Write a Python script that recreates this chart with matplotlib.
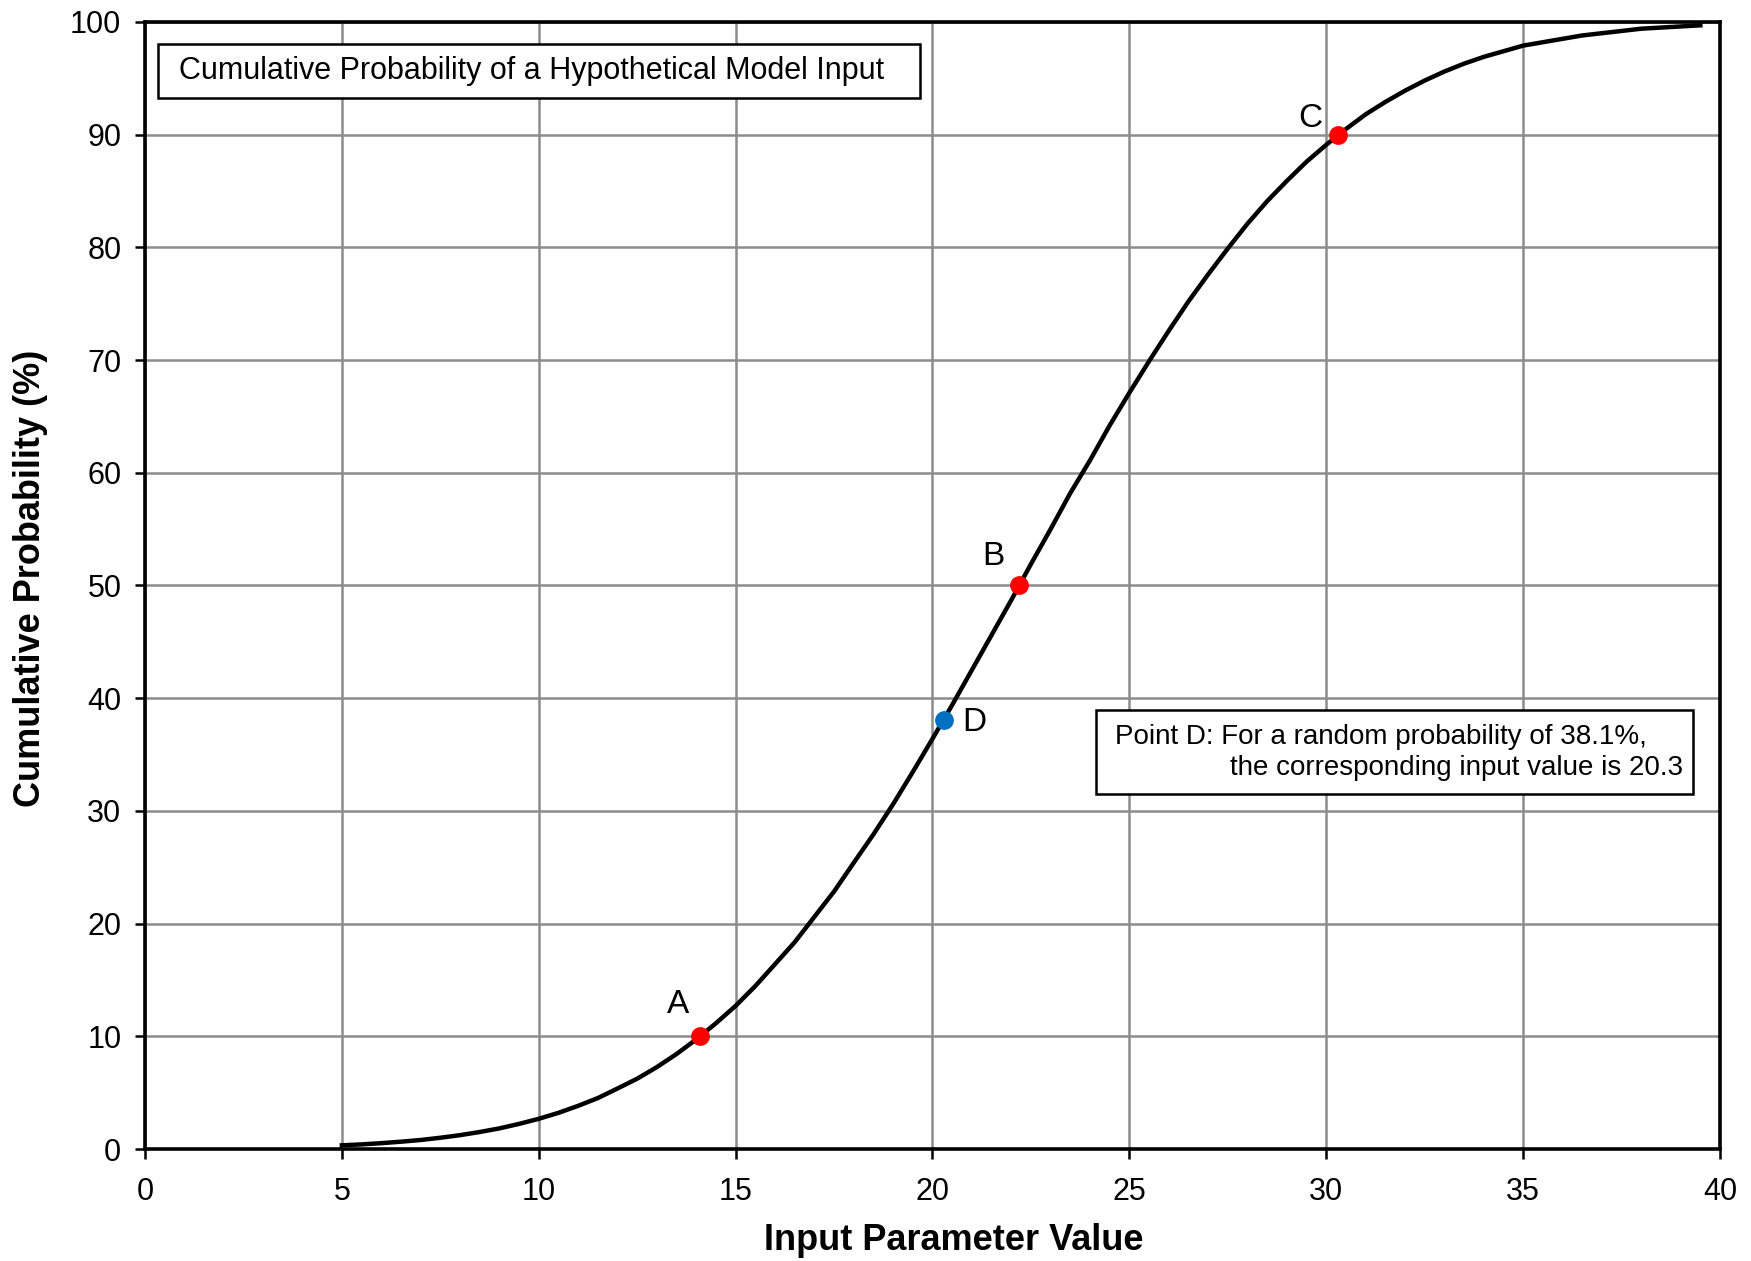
import matplotlib
matplotlib.use("Agg")
import matplotlib.pyplot as plt
from matplotlib.patches import Rectangle

plt.rcParams['font.family'] = ['Liberation Sans', 'DejaVu Sans']

# cumulative distribution curve, read at half-unit steps of the input
input_vals = [5, 5.5, 6, 6.5, 7, 7.5, 8, 8.5, 9, 9.5, 10, 10.5, 11, 11.5, 12, 12.5,
              13, 13.5, 14, 14.5, 15, 15.5, 16, 16.5, 17, 17.5, 18, 18.5, 19, 19.5,
              20, 20.5, 21, 21.5, 22, 22.5, 23, 23.5, 24, 24.5, 25, 25.5, 26, 26.5,
              27, 27.5, 28, 28.5, 29, 29.5, 30, 30.5, 31, 31.5, 32, 32.5, 33, 33.5,
              34, 34.5, 35, 35.5, 36, 36.5, 37, 37.5, 38, 38.5, 39, 39.5]
cum_prob = [0.33, 0.41, 0.52, 0.65, 0.80, 1.00, 1.23, 1.51, 1.83, 2.23, 2.68, 3.21,
            3.83, 4.52, 5.37, 6.24, 7.27, 8.43, 9.73, 11.16, 12.7, 14.46, 16.4, 18.35,
            20.6, 22.85, 25.4, 27.92, 30.6, 33.46, 36.4, 39.4, 42.5, 45.6, 48.7, 51.9,
            55.0, 58.2, 61.1, 64.2, 67.1, 69.9, 72.6, 75.2, 77.6, 79.9, 82.1, 84.1,
            85.9, 87.6, 89.1, 90.5, 91.8, 92.9, 93.9, 94.8, 95.6, 96.3, 96.9, 97.4,
            97.9, 98.2, 98.5, 98.8, 99.0, 99.2, 99.4, 99.5, 99.6, 99.7]

# percentile points A, B, C and the sampled point D
pt_names = ["A", "B", "C"]
pt_x = [14.1, 22.2, 30.3]
pt_y = [10, 50, 90]
d_x = 20.3
d_y = 38.1

xticks = list(range(0, 41, 5))
yticks = list(range(0, 101, 10))

fig = plt.figure(figsize=(17.51, 12.61), dpi=100)
ax = fig.add_axes([0.0828, 0.0888, 0.8995, 0.8938])

ax.plot(input_vals, cum_prob, color='black', lw=3.2, zorder=3,
        solid_joinstyle='round')
ax.plot(pt_x, pt_y, 'o', color='#ff0000', ms=12.5, zorder=4)
ax.plot([d_x], [d_y], 'o', color='#0070c0', ms=12.5, zorder=4)

label_off = {"A": (-0.55, 2.8), "B": (-0.65, 2.6), "C": (-0.7, 1.4)}
for n, x, y in zip(pt_names, pt_x, pt_y):
    dx, dy = label_off[n]
    ax.text(x + dx, y + dy, n, fontsize=24, ha='center', va='center', zorder=5)
ax.text(d_x + 0.75, d_y - 0.3, "D", fontsize=24, ha='center', va='center', zorder=5)

ax.set_xlim(0, 40)
ax.set_ylim(0, 100)
ax.set_xticks(xticks)
ax.set_yticks(yticks)
ax.grid(True, color='#8c8c8c', lw=1.8, zorder=1)
ax.set_axisbelow(True)
ax.tick_params(axis='both', labelsize=22, length=7, width=1.8, direction='out')
ax.tick_params(axis='x', pad=13)
ax.tick_params(axis='y', pad=10)
for s in ax.spines.values():
    s.set_linewidth(2.6)
    s.set_zorder(6)

ax.set_xlabel("Input Parameter Value", fontsize=26, fontweight='bold',
              labelpad=12, x=0.5135)
ax.set_ylabel("Cumulative Probability (%)", fontsize=26, fontweight='bold',
              labelpad=16, y=0.506)

# title box
ax.add_patch(Rectangle((0.0085, 0.9326), 0.4837, 0.0476, transform=ax.transAxes,
                       fc='white', ec='black', lw=1.8, zorder=7))
ax.text(0.0213, 0.9564, "Cumulative Probability of a Hypothetical Model Input",
        transform=ax.transAxes, fontsize=22, va='center', ha='left', zorder=8)

# note on point D
ax.add_patch(Rectangle((0.6035, 0.3152), 0.3795, 0.0743, transform=ax.transAxes,
                       fc='white', ec='black', lw=1.8, zorder=7))
ax.text(0.6156, 0.3657, "Point D: For a random probability of 38.1%,",
        transform=ax.transAxes, fontsize=20, va='center', ha='left', zorder=8)
ax.text(0.9766, 0.338, "the corresponding input value is 20.3",
        transform=ax.transAxes, fontsize=20, va='center', ha='right', zorder=8)

fig.savefig("out.png", dpi=100)
